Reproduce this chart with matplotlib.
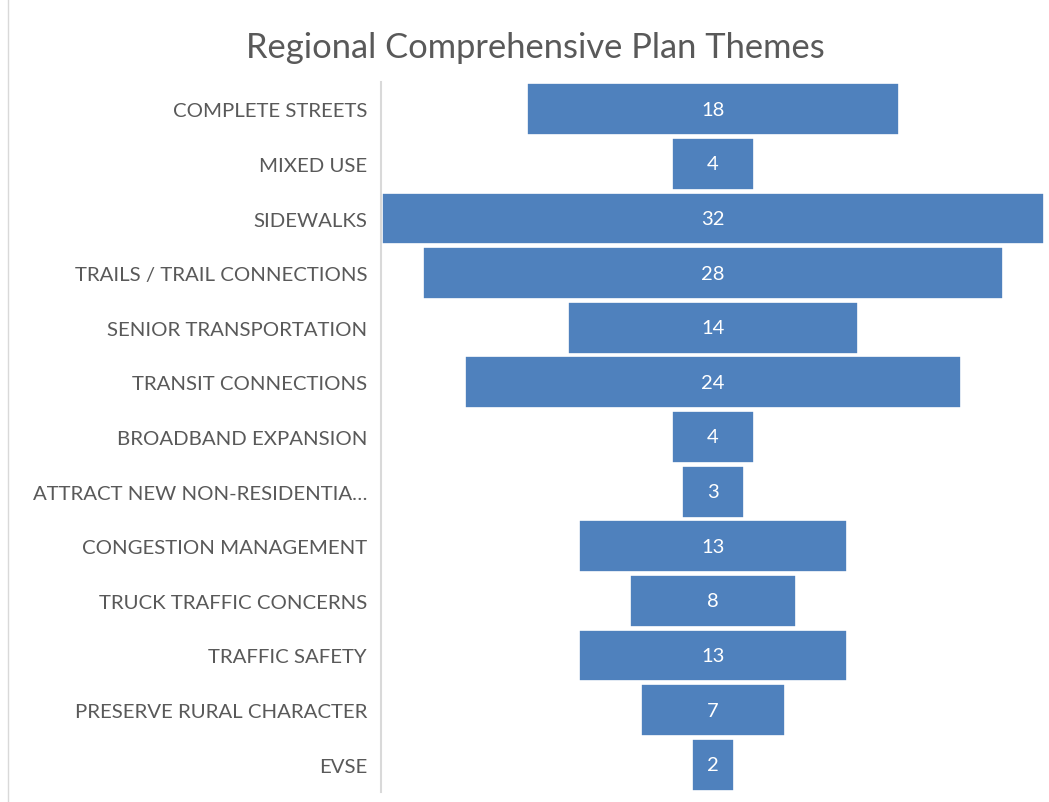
import matplotlib.pyplot as plt
from matplotlib.lines import Line2D

# Funnel data, top to bottom
themes = ["COMPLETE STREETS", "MIXED USE", "SIDEWALKS", "TRAILS / TRAIL CONNECTIONS",
          "SENIOR TRANSPORTATION", "TRANSIT CONNECTIONS", "BROADBAND EXPANSION",
          "ATTRACT NEW NON-RESIDENTIA\u2026", "CONGESTION MANAGEMENT",
          "TRUCK TRAFFIC CONCERNS", "TRAFFIC SAFETY", "PRESERVE RURAL CHARACTER", "EVSE"]
counts = [18, 4, 32, 28, 14, 24, 4, 3, 13, 8, 13, 7, 2]

plt.rcParams['font.family'] = ['Lato', 'DejaVu Sans']

fig = plt.figure(figsize=(10.49, 8.03), dpi=100)
ax = fig.add_axes([381 / 1049, 10 / 803, 664 / 1049, 710 / 803])

ypos = list(range(len(themes)))
lefts = [-c / 2 for c in counts]
bars = ax.barh(ypos, counts, left=lefts, height=0.95, color='#4f81bd',
               edgecolor='white', linewidth=1.2)
for y, c in zip(ypos, counts):
    ax.text(0, y, str(c), ha='center', va='center', color='white', fontsize=14.5)

ax.set_xlim(-16.05, 16.05)
ax.set_ylim(len(themes) - 0.5, -0.5)
ax.set_yticks(ypos)
ax.set_yticklabels(themes, fontsize=14.7, color='#595959')
ax.tick_params(axis='y', length=0, pad=10)
ax.set_xticks([])
for side in ['top', 'right', 'bottom']:
    ax.spines[side].set_visible(False)
ax.spines['left'].set_color('#d9d9d9')
ax.spines['left'].set_linewidth(1.5)

fig.text(535 / 1049, 1 - 48 / 803, "Regional Comprehensive Plan Themes",
         ha='center', va='center', fontsize=24.8, color='#595959')

# faint chart frame on the left edge
fig.add_artist(Line2D([8 / 1049, 8 / 1049], [0, 1], color='#d9d9d9', linewidth=1))

fig.savefig("out.png", dpi=100)
